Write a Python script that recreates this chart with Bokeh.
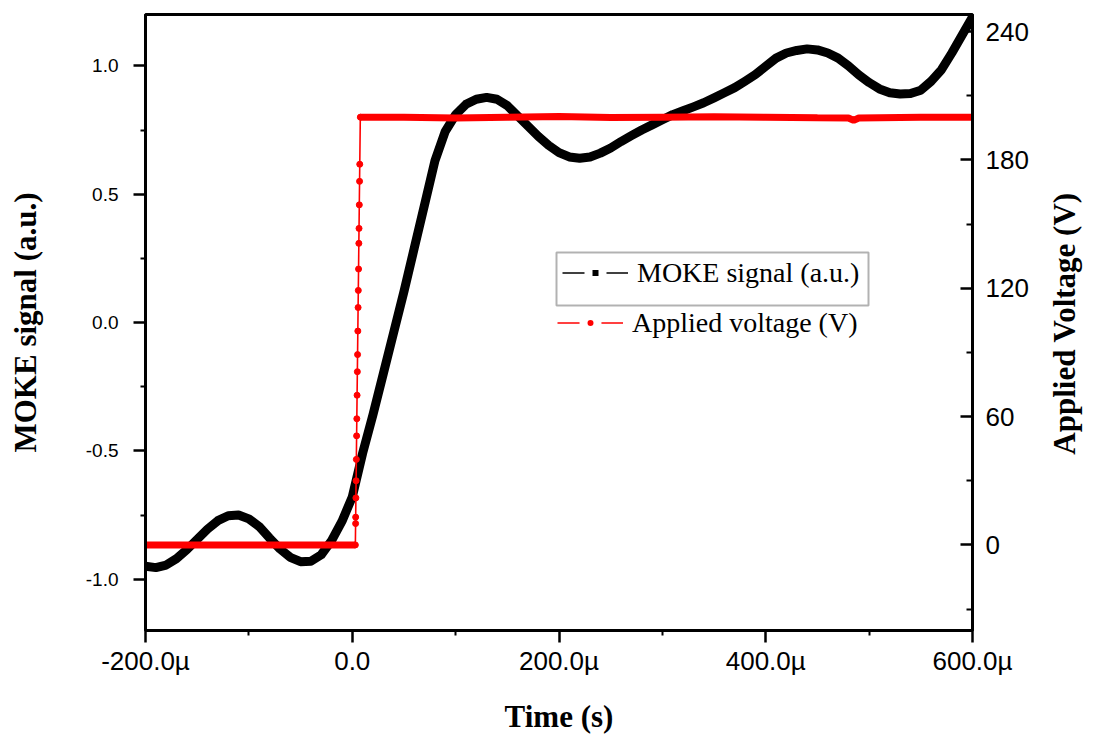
import math
from bokeh.plotting import figure
from bokeh.layouts import row
from bokeh.models import (Range1d, LinearAxis, FixedTicker, Legend, LegendItem,
                          BoxAnnotation, Label)
from bokeh.embed import file_html
from bokeh.resources import INLINE

# ---------------- data ----------------
time_us = list(range(-200, 601, 10))
moke_signal = [
    -0.950, -0.955, -0.945, -0.920, -0.885, -0.845, -0.805, -0.772, -0.753, -0.750,
    -0.765, -0.795, -0.840, -0.882, -0.915, -0.932, -0.930, -0.905, -0.850, -0.775,
    -0.680, -0.510, -0.360, -0.200, -0.040, 0.120, 0.290, 0.460, 0.630, 0.745,
    0.810, 0.850, 0.870, 0.877, 0.870, 0.845, 0.805, 0.765, 0.725, 0.690,
    0.662, 0.645, 0.640, 0.645, 0.660, 0.680, 0.705, 0.728, 0.750, 0.770,
    0.790, 0.810, 0.825, 0.840, 0.856, 0.875, 0.895, 0.915, 0.940, 0.966,
    0.998, 1.030, 1.050, 1.060, 1.066, 1.062, 1.050, 1.030, 1.000, 0.965,
    0.935, 0.910, 0.895, 0.890, 0.892, 0.905, 0.940, 0.985, 1.050, 1.120,
    1.190,
]

volt_low_t = [-200, -150, -100, -50, 0, 3.0]
volt_low_v = [0, 0, 0, 0, 0, 0]
volt_ramp_t = [3.0, 3.24, 3.31, 3.53, 3.72, 3.96, 4.22, 4.42, 4.68, 4.94, 5.14,
               5.4, 5.66, 5.86, 6.1, 6.38, 6.55, 6.82, 7.08, 7.27, 7.8]
volt_ramp_v = [0, 10, 13, 22, 30, 40, 51, 59, 70, 81, 89, 100, 111, 119, 129,
               141, 148, 159, 170, 178, 200]
volt_high_t = [7.8, 50, 100, 150, 200, 250, 300, 350, 400, 450, 480, 485, 490, 550, 600]
volt_high_v = [200, 200, 199.6, 200, 200.3, 199.8, 200, 200.2, 200, 199.7, 199.6, 198.5, 199.6, 200, 200]

x_ticks = [-200, 0, 200, 400, 600]
x_minor = [-100, 100, 300, 500]
x_labels = ["-200.0µ", "0.0", "200.0µ", "400.0µ", "600.0µ"]
y_ticks = [-1.0, -0.5, 0.0, 0.5, 1.0]
y_minor = [-0.75, -0.25, 0.25, 0.75]
y_labels = ["-1.0", "-0.5", "0.0", "0.5", "1.0"]
v_ticks = [0, 60, 120, 180, 240]
v_minor = [-30, 30, 90, 150, 210]

# ---------------- figure ----------------
W, H = 1045, 740
FL, FR, FT, FB = 145, 972, 14, 630   # frame edges on the page
p = figure(width=W, height=H, output_backend="svg", toolbar_location=None,
           x_range=Range1d(-200, 600), y_range=Range1d(-1.2, 1.2),
           min_border_left=FL, min_border_right=W - FR, min_border_top=FT,
           min_border_bottom=H - FB)
p.extra_y_ranges = {"volt": Range1d(-40, 248)}
p.grid.visible = False
p.outline_line_color = "black"
p.outline_line_width = 3
p.background_fill_color = "white"
p.border_fill_color = "white"

SANS = "Liberation Sans"
SERIF = "Liberation Serif"
TITLE_SIZE = "31px"

xa = p.xaxis[0]
xa.ticker = FixedTicker(ticks=x_ticks, minor_ticks=x_minor)
xa.major_label_overrides = {t: l for t, l in zip(x_ticks, x_labels)}
xa.axis_label = "Time (s)"

ya = p.yaxis[0]
ya.ticker = FixedTicker(ticks=y_ticks, minor_ticks=y_minor)
ya.major_label_overrides = {t: l for t, l in zip(y_ticks, y_labels)}
ya.axis_label = "MOKE signal (a.u.)"

ra = LinearAxis(y_range_name="volt")
ra.ticker = FixedTicker(ticks=v_ticks, minor_ticks=v_minor)
p.add_layout(ra, "right")

for ax in (xa, ya, ra):
    ax.axis_line_width = 3
    ax.axis_line_color = "black"
    ax.major_tick_line_width = 2.5
    ax.minor_tick_line_width = 2
    ax.major_tick_line_color = "black"
    ax.minor_tick_line_color = "black"
    ax.major_label_text_font = SANS
    ax.major_label_text_color = "black"
    ax.axis_label_text_font = SERIF
    ax.axis_label_text_font_style = "bold"
    ax.axis_label_text_font_size = TITLE_SIZE
    ax.axis_label_text_color = "black"

xa.major_tick_out = 12
xa.major_tick_in = 0
xa.minor_tick_out = 5
xa.minor_tick_in = 0
xa.major_label_text_font_size = "26px"
xa.major_label_standoff = 3
xa.axis_label_standoff = 20

ya.major_tick_out = 12
ya.major_tick_in = 0
ya.minor_tick_out = 5
ya.minor_tick_in = 0
ya.major_label_text_font_size = "19px"
ya.major_label_standoff = 15
ya.axis_label_standoff = 40

ra.major_tick_out = 0
ra.major_tick_in = 12
ra.minor_tick_out = 0
ra.minor_tick_in = 6
ra.major_label_text_font_size = "26px"
ra.major_label_standoff = 13

# ---------------- glyphs ----------------
p.line(time_us, moke_signal, line_color="black", line_width=9, line_join="round")

all_t = volt_low_t[:-1] + volt_ramp_t + volt_high_t[1:]
all_v = volt_low_v[:-1] + volt_ramp_v + volt_high_v[1:]
p.line(volt_low_t, volt_low_v, line_color="red", line_width=7, y_range_name="volt")
p.line(volt_high_t, volt_high_v, line_color="red", line_width=7, y_range_name="volt")
p.line(all_t, all_v, line_color="red", line_width=1.6, y_range_name="volt")
p.scatter(volt_ramp_t, volt_ramp_v, marker="circle", size=6, color="red",
          y_range_name="volt")

# legend sample renderers (a single NaN point, nothing drawn in the plot)
nan = [float("nan")]
lg_moke_line = p.line(nan, nan, line_color="black", line_width=1.5)
lg_moke_mark = p.scatter(nan, nan, marker="square", fill_color="black",
                         line_color="white", line_width=8)
lg_volt_line = p.line(nan, nan, line_color="red", line_width=1.5)
lg_volt_mark = p.scatter(nan, nan, marker="circle", fill_color="red",
                         line_color="white", line_width=8)

common = dict(margin=0, padding=0, border_line_color=None,
              background_fill_alpha=0, glyph_width=66, glyph_height=35,
              label_height=35, label_standoff=9,
              label_text_font=SERIF, label_text_font_size="28px",
              label_text_color="black")
leg1 = Legend(items=[LegendItem(label="MOKE signal (a.u.)",
                                renderers=[lg_moke_line, lg_moke_mark])],
              location=(562 - FL, FB - 290), **common)
leg2 = Legend(items=[LegendItem(label="Applied voltage (V)",
                                renderers=[lg_volt_line, lg_volt_mark])],
              location=(557 - FL, FB - 340), **common)
p.add_layout(leg1, "center")
p.add_layout(leg2, "center")

box = BoxAnnotation(left=556 - FL, right=868 - FL, bottom=FB - 305, top=FB - 252,
                    left_units="screen", right_units="screen",
                    top_units="screen", bottom_units="screen",
                    fill_alpha=0, line_color="black", line_width=2)
p.add_layout(box)

# ---------------- right-hand axis title (reads bottom-to-top) ----------------
QW = 1096 - W
q = figure(width=QW, height=H, output_backend="svg", toolbar_location=None,
           x_axis_location=None, y_axis_location=None, min_border=0,
           x_range=Range1d(0, 1), y_range=Range1d(0, 1))
q.grid.visible = False
q.outline_line_color = None
q.background_fill_color = "white"
q.border_fill_color = "white"
q.add_layout(Label(text="Applied Voltage (V)", x=1064 - W, y=307,
                   x_units="screen", y_units="screen", angle=math.pi / 2,
                   text_align="center", text_baseline="middle",
                   text_font=SERIF, text_font_style="bold",
                   text_font_size=TITLE_SIZE, text_color="black"))

layout = row(p, q, spacing=0)
open("out.html", "w").write(file_html(layout, INLINE))
